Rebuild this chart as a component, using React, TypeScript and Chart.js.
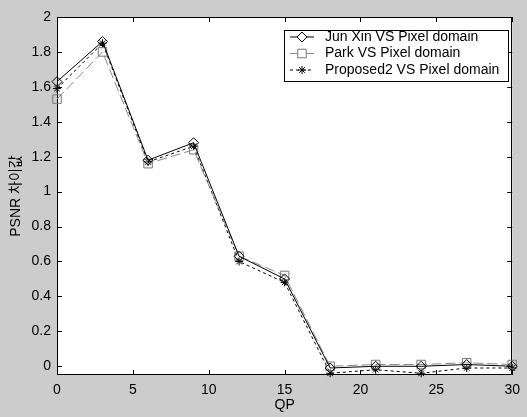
import React, { useEffect, useRef } from "react";
import { Chart, registerables } from "chart.js";
import { drawPoint } from "chart.js/helpers";

Chart.register(...registerables);

const qp = [0, 3, 6, 9, 12, 15, 18, 21, 24, 27, 30];
const junXin = [1.63, 1.86, 1.18, 1.28, 0.63, 0.5, -0.01, 0.0, 0.0, 0.01, 0.0];
const park = [1.53, 1.8, 1.16, 1.24, 0.63, 0.52, 0.0, 0.01, 0.01, 0.02, 0.01];
const proposed2 = [1.59, 1.85, 1.17, 1.26, 0.6, 0.48, -0.04, -0.02, -0.04, -0.01, -0.01];

const seriesLabels = [
  "Jun Xin VS Pixel domain",
  "Park VS Pixel domain",
  "Proposed2 VS Pixel domain",
];
const xTicks = [0, 5, 10, 15, 20, 25, 30];
const yTicks = [0, 0.2, 0.4, 0.6, 0.8, 1, 1.2, 1.4, 1.6, 1.8, 2];
const xTitle = "QP";
const yTitle = "PSNR 차이값";

const FONT = "'Liberation Sans', Arial, 'Noto Sans CJK KR', sans-serif";
const BG = "#cccccc";
const FS = 14;

const toPoints = (ys: number[]) => qp.map((x, i) => ({ x, y: ys[i] }));

const frame = {
  id: "frame",
  beforeDraw(chart: any) {
    const { ctx, chartArea: a } = chart;
    ctx.save();
    ctx.fillStyle = BG;
    ctx.fillRect(0, 0, chart.width, chart.height);
    ctx.fillStyle = "#ffffff";
    ctx.fillRect(a.left, a.top, a.right - a.left, a.bottom - a.top);
    ctx.restore();
  },
  beforeDatasetsDraw(chart: any) {
    const { ctx, chartArea: a } = chart;
    const xs = chart.scales.x;
    const ys = chart.scales.y;
    const tl = 5;
    ctx.save();
    ctx.strokeStyle = "#000";
    ctx.lineWidth = 1;
    ctx.beginPath();
    ctx.rect(Math.round(a.left) + 0.5, Math.round(a.top) + 0.5, Math.round(a.right - a.left) - 1, Math.round(a.bottom - a.top) - 1);
    for (const v of xTicks) {
      const px = Math.round(xs.getPixelForValue(v)) + 0.5;
      ctx.moveTo(px, a.bottom);
      ctx.lineTo(px, a.bottom - tl);
      ctx.moveTo(px, a.top);
      ctx.lineTo(px, a.top + tl);
    }
    for (const v of yTicks) {
      const py = Math.round(ys.getPixelForValue(v)) + 0.5;
      ctx.moveTo(a.left, py);
      ctx.lineTo(a.left + tl, py);
      ctx.moveTo(a.right, py);
      ctx.lineTo(a.right - tl, py);
    }
    ctx.stroke();
    ctx.restore();
  },
  afterDraw(chart: any) {
    const { ctx } = chart;
    const x0 = 284.5, y0 = 30.5, w = 224, h = 51;
    ctx.save();
    ctx.fillStyle = "#ffffff";
    ctx.fillRect(x0, y0, w, h);
    ctx.strokeStyle = "#000";
    ctx.lineWidth = 1;
    ctx.strokeRect(x0, y0, w, h);
    ctx.font = `${FS}px ${FONT}`;
    ctx.textBaseline = "middle";
    chart.data.datasets.forEach((ds: any, i: number) => {
      const y = 37 + i * 16.5;
      ctx.save();
      ctx.strokeStyle = ds.borderColor;
      ctx.lineWidth = 1;
      ctx.setLineDash(ds.borderDash || []);
      ctx.beginPath();
      ctx.moveTo(290, y);
      ctx.lineTo(314, y);
      ctx.stroke();
      ctx.setLineDash([]);
      ctx.fillStyle = "#ffffff";
      ctx.strokeStyle = ds.pointBorderColor;
      drawPoint(ctx, { pointStyle: ds.pointStyle, radius: ds.pointRadius, rotation: 0, borderWidth: 1 } as any, 302, y);
      ctx.restore();
      ctx.fillStyle = "#000";
      ctx.fillText(ds.label, 325, y);
    });
    ctx.restore();
  },
};

export default function App() {
  const ref = useRef<HTMLCanvasElement | null>(null);
  useEffect(() => {
    if (!ref.current) return;
    const chart = new Chart(ref.current, {
      type: "line",
      data: {
        datasets: [
          {
            label: seriesLabels[0],
            data: toPoints(junXin),
            borderColor: "#000000",
            borderWidth: 1,
            pointStyle: "rectRot",
            pointRadius: 5,
            pointBorderColor: "#000000",
            pointBackgroundColor: "rgba(0,0,0,0)",
            pointBorderWidth: 1,
            tension: 0,
            clip: 8,
          },
          {
            label: seriesLabels[1],
            data: toPoints(park),
            borderColor: "#8a8a8a",
            borderWidth: 1,
            borderDash: [10, 4],
            pointStyle: "rect",
            pointRadius: 6,
            pointBorderColor: "#777777",
            pointBackgroundColor: "rgba(0,0,0,0)",
            pointBorderWidth: 1,
            tension: 0,
            clip: 8,
          },
          {
            label: seriesLabels[2],
            data: toPoints(proposed2),
            borderColor: "#000000",
            borderWidth: 1,
            borderDash: [3, 3],
            pointStyle: "star",
            pointRadius: 4,
            pointBorderColor: "#000000",
            pointBackgroundColor: "rgba(0,0,0,0)",
            pointBorderWidth: 1,
            tension: 0,
            clip: 8,
          },
        ] as any,
      },
      plugins: [frame],
      options: {
        animation: false,
        responsive: false,
        maintainAspectRatio: false,
        layout: { padding: { top: 17, right: 13, left: 0, bottom: 0 } },
        plugins: { legend: { display: false }, tooltip: { enabled: false } },
        scales: {
          x: {
            type: "linear",
            min: 0,
            max: 30,
            afterBuildTicks: (axis: any) => {
              axis.ticks = xTicks.map((v) => ({ value: v }));
            },
            afterFit: (scale: any) => {
              scale.height = 42;
            },
            grid: { display: false, drawTicks: false },
            border: { display: false },
            ticks: {
              padding: 7,
              color: "#000",
              font: { family: FONT, size: FS },
              maxRotation: 0,
              autoSkip: false,
              callback: (v: any) => String(v),
            },
            title: {
              display: true,
              text: xTitle,
              color: "#000",
              font: { family: FONT, size: FS },
              padding: { top: 0, bottom: 3 },
            },
          },
          y: {
            type: "linear",
            min: -0.05,
            max: 2,
            afterBuildTicks: (axis: any) => {
              axis.ticks = yTicks.map((v) => ({ value: v }));
            },
            afterFit: (scale: any) => {
              scale.width = 57;
            },
            grid: { display: false, drawTicks: false },
            border: { display: false },
            ticks: {
              padding: 6,
              color: "#000",
              font: { family: FONT, size: FS },
              autoSkip: false,
              callback: (v: any) => String(Number(Number(v).toFixed(1))),
            },
            title: {
              display: true,
              text: yTitle,
              color: "#000",
              font: { family: FONT, size: FS },
              padding: { top: 8, bottom: 0 },
            },
          },
        },
      },
    });
    return () => chart.destroy();
  }, []);
  return (
    <div style={{ position: "fixed", left: 0, top: 0, width: 527, height: 417, background: BG }}>
      <canvas ref={ref} width={527} height={417} style={{ display: "block", width: 527, height: 417 }} />
    </div>
  );
}
